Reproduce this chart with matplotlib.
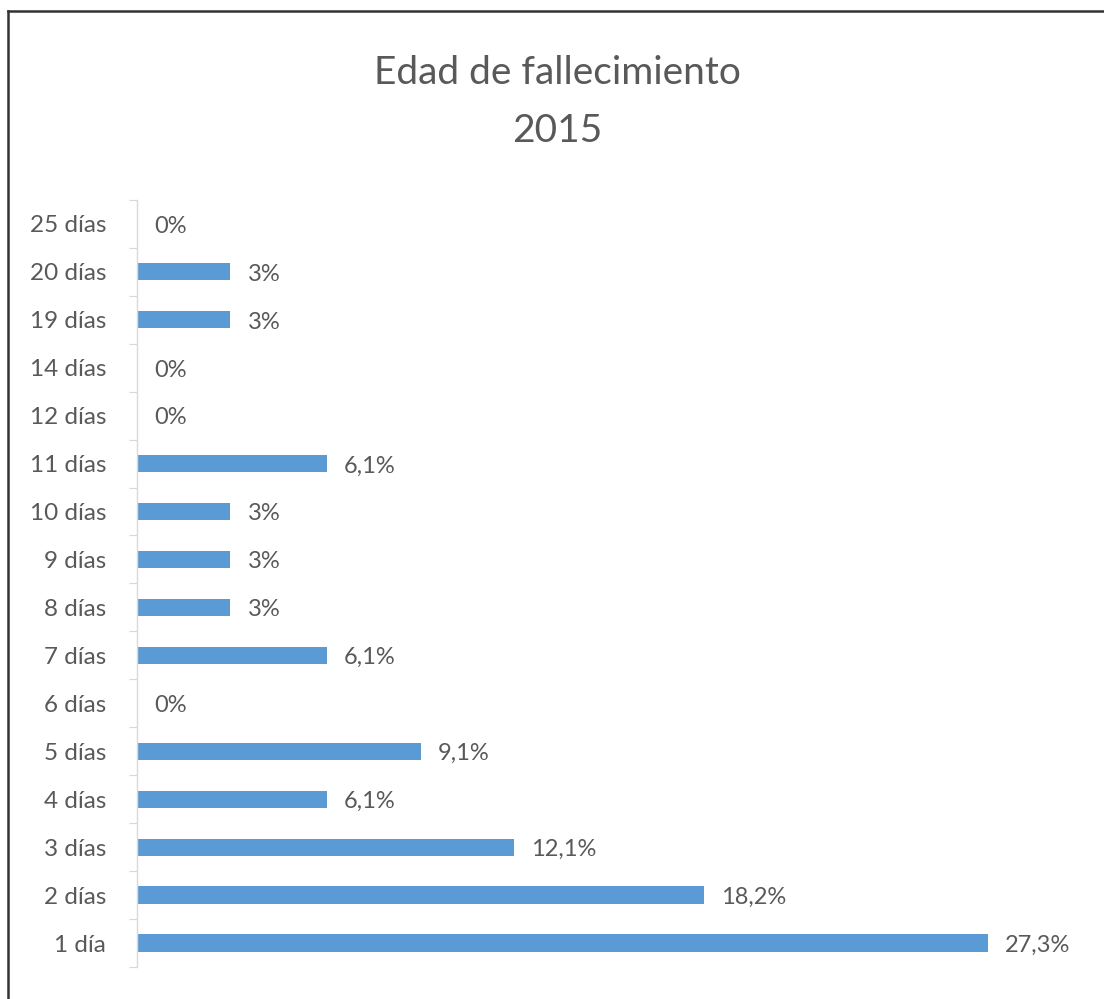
import matplotlib.pyplot as plt
from matplotlib.lines import Line2D

categories = ["1 día", "2 días", "3 días", "4 días", "5 días", "6 días", "7 días", "8 días",
              "9 días", "10 días", "11 días", "12 días", "14 días", "19 días", "20 días", "25 días"]
values = [27.3, 18.2, 12.1, 6.1, 9.1, 0, 6.1, 3, 3, 3, 6.1, 0, 0, 3, 3, 0]
labels = ["27,3%", "18,2%", "12,1%", "6,1%", "9,1%", "0%", "6,1%", "3%",
          "3%", "3%", "6,1%", "0%", "0%", "3%", "3%", "0%"]

BAR_COLOR = "#5B9BD5"
TEXT_COLOR = "#595959"

plt.rcParams["font.family"] = ["Lato", "DejaVu Sans"]

fig = plt.figure(figsize=(11.04, 9.99), dpi=100)
ax = fig.add_axes([0.124, 0.032, 0.847, 0.768])

pos = list(range(len(categories)))
ax.barh(pos, values, height=0.36, color=BAR_COLOR)
for p, v, lab in zip(pos, values, labels):
    ax.text(v + 0.55, p - 0.05, lab, va="center", ha="left", fontsize=17, color=TEXT_COLOR)

ax.set_xlim(0, 30)
ax.set_ylim(-0.5, len(categories) - 0.5)
ax.set_yticks([p - 0.5 for p in pos] + [len(categories) - 0.5])
ax.set_yticklabels([])
ax.set_yticks(pos, minor=True)
ax.set_yticklabels(categories, minor=True, fontsize=17.5, color=TEXT_COLOR)
ax.tick_params(axis="y", which="major", length=6, color="#D9D9D9", direction="out")
ax.tick_params(axis="y", which="minor", length=0, pad=22)
ax.set_xticks([])
for side in ["top", "right", "bottom"]:
    ax.spines[side].set_visible(False)
ax.spines["left"].set_color("#D9D9D9")
ax.spines["left"].set_linewidth(1.0)

fig.text(0.505, 0.927, "Edad de fallecimiento", ha="center", va="center",
         fontsize=28, color=TEXT_COLOR)
fig.text(0.505, 0.869, "2015", ha="center", va="center", fontsize=28, color=TEXT_COLOR)

# outer border (top and left only visible)
fig.add_artist(Line2D([8 / 1104, 1], [1 - 11 / 999, 1 - 11 / 999], transform=fig.transFigure,
                      color="#333333", linewidth=1.8))
fig.add_artist(Line2D([8 / 1104, 8 / 1104], [0, 1 - 11 / 999], transform=fig.transFigure,
                      color="#333333", linewidth=1.8))

fig.savefig("out.png", dpi=100)
